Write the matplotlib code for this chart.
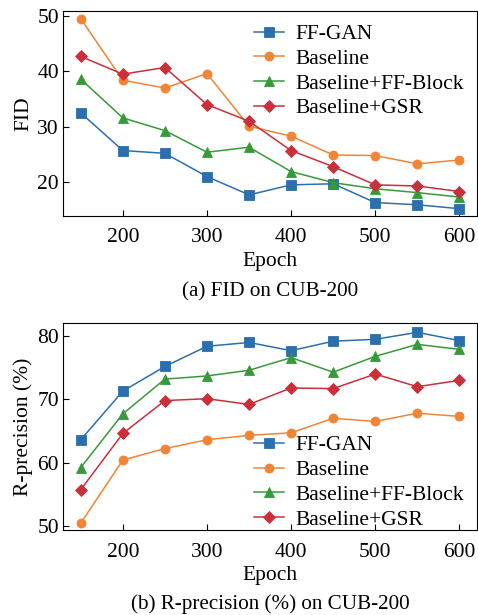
import matplotlib
matplotlib.use("Agg")
import matplotlib.pyplot as plt

plt.rcParams['font.family'] = ['Liberation Serif', 'DejaVu Serif']

epochs = [150, 200, 250, 300, 350, 400, 450, 500, 550, 600]
names = ["FF-GAN", "Baseline", "Baseline+FF-Block", "Baseline+GSR"]

# FID on CUB-200
fid_ffgan = [32.5, 25.7, 25.2, 21.0, 17.7, 19.5, 19.7, 16.3, 15.9, 15.2]
fid_base = [49.5, 38.4, 37.0, 39.6, 30.1, 28.3, 24.9, 24.8, 23.3, 24.0]
fid_ffblock = [38.6, 31.6, 29.3, 25.4, 26.3, 21.9, 19.9, 18.8, 18.1, 17.3]
fid_gsr = [42.7, 39.5, 40.7, 34.0, 31.0, 25.7, 22.8, 19.5, 19.3, 18.3]

# R-precision on CUB-200
rp_ffgan = [63.6, 71.3, 75.2, 78.4, 79.0, 77.7, 79.2, 79.5, 80.6, 79.3]
rp_base = [50.4, 60.4, 62.2, 63.6, 64.3, 64.7, 67.0, 66.5, 67.8, 67.3]
rp_ffblock = [59.2, 67.7, 73.2, 73.7, 74.6, 76.6, 74.3, 76.8, 78.7, 77.9]
rp_gsr = [55.7, 64.6, 69.8, 70.1, 69.2, 71.8, 71.7, 74.0, 72.0, 73.0]

colors = ['#2b6fad', '#f08536', '#379a3a', '#c9303a']
markers = ['s', 'o', '^', 'D']

fig = plt.figure(figsize=(4.78, 6.15), dpi=100)
ax1 = fig.add_axes([0.132, 0.649, 0.866, 0.333])
ax2 = fig.add_axes([0.132, 0.138, 0.866, 0.337])

def draw(ax, series, ylim, yticks, ylabel, legloc, anchor):
    for ys, name, c, m in zip(series, names, colors, markers):
        ax.plot(epochs, ys, color=c, marker=m, markersize=6.5 if m != 'D' else 6,
                linewidth=1.1, label=name, markeredgewidth=0.6,
                markeredgecolor=c)
    ax.set_xlim(129, 621)
    ax.set_ylim(*ylim)
    ax.set_xticks([200, 300, 400, 500, 600])
    ax.set_yticks(yticks)
    ax.tick_params(direction='in', labelsize=15.5, length=4)
    ax.tick_params(axis='x', pad=9)
    ax.tick_params(axis='y', pad=3)
    ax.set_xlabel("Epoch", fontsize=15.5, labelpad=3)
    ax.set_ylabel(ylabel, fontsize=15.5, labelpad=3)
    ax.legend(loc=legloc, bbox_to_anchor=anchor, frameon=False, fontsize=15.5,
              handlelength=1.4, handletextpad=0.55, labelspacing=0.22,
              borderaxespad=0.2)

draw(ax1, [fid_ffgan, fid_base, fid_ffblock, fid_gsr], (13.9, 50.9),
     [20, 30, 40, 50], "FID", 'upper right', (1.0, 1.0))
draw(ax2, [rp_ffgan, rp_base, rp_ffblock, rp_gsr], (49.3, 82.1),
     [50, 60, 70, 80], "R-precision (%)", 'lower right', (1.0, -0.06))

fig.text(0.565, 1 - 292 / 615, "(a) FID on CUB-200", ha='center', va='center', fontsize=15.2)
fig.text(0.565, 1 - 604 / 615, "(b) R-precision (%) on CUB-200", ha='center', va='center', fontsize=15.2)

fig.savefig("out.png", dpi=100)
